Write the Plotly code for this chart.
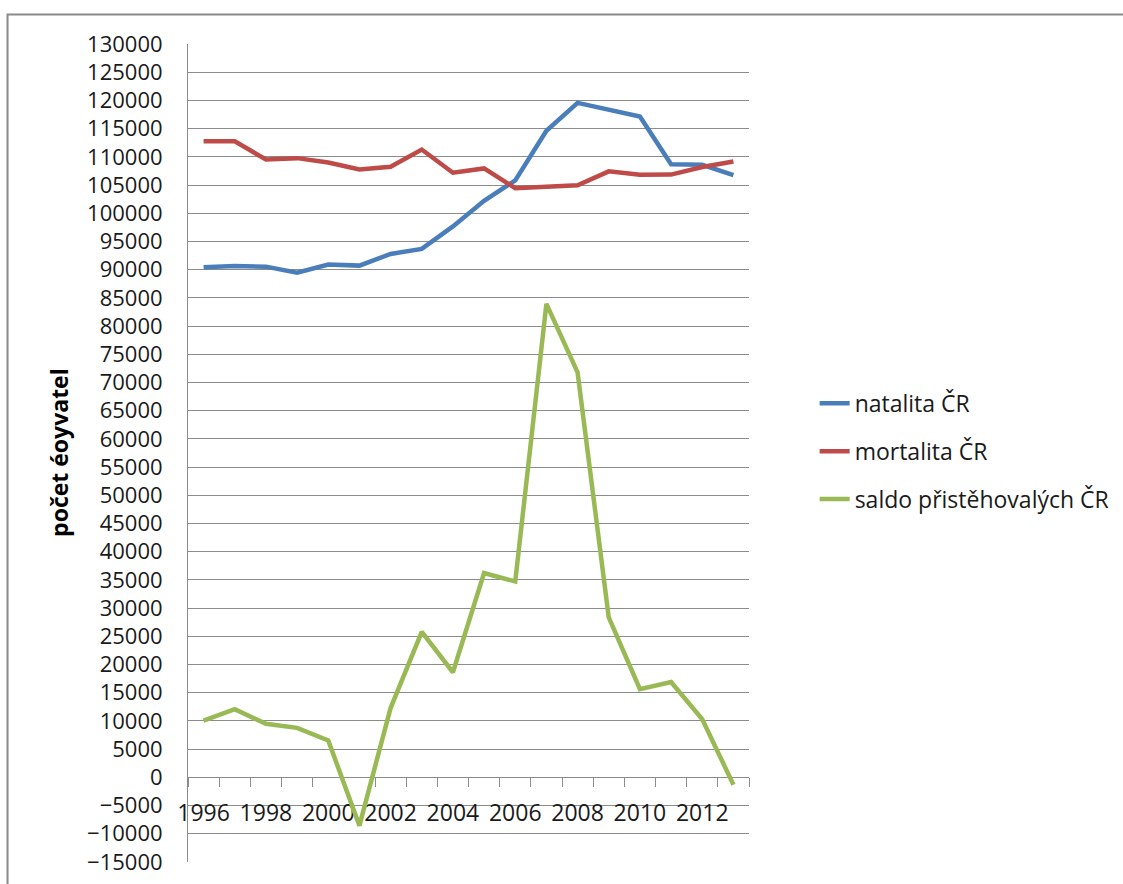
import plotly.graph_objects as go

years = list(range(1996, 2014))
natalita = [90446, 90657, 90535, 89471, 90910, 90715, 92786, 93685, 97664,
            102211, 105831, 114632, 119570, 118348, 117153, 108673, 108576, 106751]
mortalita = [112782, 112744, 109527, 109768, 109001, 107755, 108243, 111288, 107177,
             107938, 104441, 104636, 104948, 107421, 106844, 106848, 108189, 109160]
saldo = [10057, 12075, 9488, 8774, 6539, -8551, 12290, 25789, 18635,
         36229, 34720, 83945, 71790, 28344, 15648, 16889, 10293, -1297]

series_names = ["natalita ČR", "mortalita ČR", "saldo přistěhovalých ČR"]
series_colors = ["#4A7EBB", "#BE4B48", "#98B954"]
x_tick_labels = [str(y) for y in range(1996, 2013, 2)]
y_title = "počet éoyvatel"

FONT = "Open Sans"
GRID = "#8c8c8c"

fig = go.Figure()
for i, (name, vals, col) in enumerate(zip(series_names, [natalita, mortalita, saldo], series_colors)):
    fig.add_trace(go.Scatter(x=years, y=vals, mode="lines", name=name,
                             legendgroup=f"g{i}",
                             line=dict(color=col, width=4.5)))

ymin, ymax = -15000, 130000
zero_pos = (0 - ymin) / (ymax - ymin)

fig.update_layout(
    width=1123, height=884,
    margin=dict(l=188, r=374, t=44, b=22, autoexpand=False),
    paper_bgcolor="white", plot_bgcolor="white",
    font=dict(family=FONT, size=23, color="#1a1a1a"),
    showlegend=True,
    legend=dict(x=1.117, y=0.587, xanchor="left", yanchor="top",
                font=dict(family=FONT, size=23, color="#1a1a1a"),
                traceorder="grouped", tracegroupgap=15,
                bgcolor="rgba(0,0,0,0)", borderwidth=0),
    xaxis=dict(
        range=[1995.5, 2013.5],
        anchor="free", position=zero_pos, automargin=False,
        tickmode="array", tickvals=list(range(1996, 2013, 2)), ticktext=x_tick_labels,
        ticks="outside", ticklen=0, tickcolor="rgba(0,0,0,0)",
        ticklabelstandoff=15,
        tickfont=dict(family=FONT, size=23, color="#1a1a1a"),
        showgrid=False, zeroline=False,
        showline=True, linecolor=GRID, linewidth=1,
        layer="below traces",
        minor=dict(tickmode="array", tickvals=[1995.5 + i for i in range(19)],
                   ticks="outside", ticklen=9, tickcolor=GRID, tickwidth=1,
                   showgrid=False),
    ),
    yaxis=dict(
        range=[ymin, ymax], automargin=False,
        tickmode="linear", tick0=ymin, dtick=5000,
        tickformat="d",
        tickfont=dict(family=FONT, size=22, color="#1a1a1a"),
        ticks="", ticklabelstandoff=20,
        showgrid=True, gridcolor=GRID, gridwidth=1,
        zeroline=False,
        showline=True, linecolor=GRID, linewidth=1,
    ),
    annotations=[dict(text=y_title, xref="paper", yref="paper",
                      x=-0.231, y=0.5006, xanchor="center", yanchor="middle",
                      textangle=-90, showarrow=False,
                      font=dict(family=FONT, size=23, color="#000000", weight="bold"))],
    shapes=[dict(type="rect", xref="paper", yref="paper",
                 x0=-0.3217, y0=-0.04, x1=1.69, y1=1.0361,
                 line=dict(color="#8a8a8a", width=2), fillcolor="rgba(0,0,0,0)",
                 layer="below")],
)

fig.write_html("out.html")
